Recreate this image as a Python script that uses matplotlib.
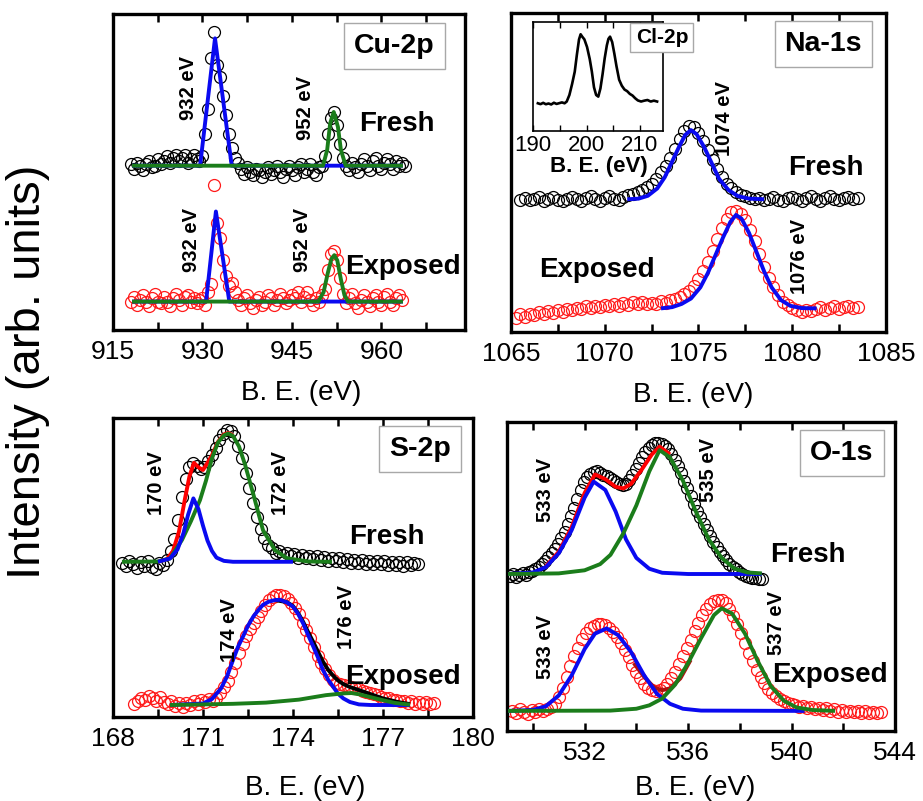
import matplotlib
import numpy as np

matplotlib.use("Agg")
import matplotlib.pyplot as plt  # noqa: E402

plt.rcParams["font.family"] = ["Liberation Sans", "DejaVu Sans"]

BLUE = "#0a0af0"
GREEN = "#1b7d1b"
RED = "#ff1a1a"

# ---- Cu-2p (x start, step, intensities in arb. units, offset stack) ----
cu_fresh_x0, cu_fresh_step = 918.0, 0.5
cu_fresh_y = [52.5, 51, 53, 52, 50.5, 52.5, 53.5, 51.5, 52, 54, 52.5, 53.5, 55, 53, 54.5,
              55.5, 53.5, 54.5, 55.5, 53, 54, 55.5, 54, 53.5, 55, 62, 70, 86, 94.4, 84,
              80, 74, 68, 62, 57.5, 54.5, 53, 51, 49.5, 51.5, 50, 49, 51, 50.5, 48.5,
              50, 51.5, 49.5, 50.5, 52, 50, 48.5, 51, 52, 50.5, 49, 51.5, 52.5, 50, 51,
              52.5, 50, 49, 51.5, 52, 55, 62, 67, 69, 65, 59, 54.5, 52, 50.5, 53,
              51.5, 50, 52.5, 54, 52, 50.5, 53.5, 54.5, 52, 51, 53, 54, 52.5, 51, 53.5,
              52, 53, 52]
cu_exp_x0, cu_exp_step = 918.0, 0.5
cu_exp_y = [9, 10.5, 8, 9.5, 11, 9, 7.5, 10, 11.5, 9, 8.5, 10.5, 9, 7.5, 10, 11.5, 9.5,
            8, 10.5, 11, 9, 10, 8.5, 9.5, 10, 8, 12, 14.5, 46, 34, 29, 22, 17, 14, 15,
            12, 9.5, 8, 10, 11, 8.5, 7, 9.5, 10.5, 8, 9, 11, 10, 8, 9.5, 11.5, 10, 8.5,
            9.5, 11, 10, 12, 9, 10.5, 12, 9.5, 8, 10, 9, 11, 13, 19, 24, 25, 22, 16.5,
            11.5, 8.5, 10, 11.5, 8.5, 7, 9.5, 11, 9, 7.5, 10, 11, 9, 8, 10.5, 11.5, 9,
            8, 10, 11, 9.5]
cu_fit_fresh_blue_x = [918.2, 929.6, 932.1, 934.9, 963.6]
cu_fit_fresh_blue_y = [52, 52, 92.3, 52, 52]
cu_fit_fresh_green_x = [918.2, 950.2, 950.9, 951.4, 952.0, 952.7, 953.2, 954.0, 963.6]
cu_fit_fresh_green_y = [52, 52, 57, 65.4, 69, 64.3, 57, 52, 52]
cu_fit_exp_blue_x = [918.2, 930.6, 932.25, 934.5, 963.6]
cu_fit_exp_blue_y = [9, 9, 37.5, 9, 9]
cu_fit_exp_green_x = [918.2, 949.4, 950.3, 951.0, 951.6, 952.1, 952.6, 953.2, 953.8, 954.4, 963.6]
cu_fit_exp_green_y = [9, 9, 12, 18, 22.5, 23.7, 22, 16, 11, 9, 9]

# ---- Na-1s ----
na_fresh_x0, na_fresh_step = 1065.5, 0.25
na_fresh_y = [41.5, 42, 41.3, 41.8, 42.3, 41.2, 41.7, 42.2, 41.5, 41, 41.8, 42.4, 41.6,
              41.1, 41.9, 42.5, 41.7, 41.2, 42, 42.6, 41.8, 41.4, 42.2, 42.8, 43.3, 43.8,
              44.5, 45.5, 46.5, 48, 50, 52, 54.5, 57.5, 60.5, 63, 64.5, 64.2, 62.5, 60,
              57, 54, 51, 48.5, 46.5, 45, 44, 43, 42.5, 42, 41.6, 42.1, 41.3, 41.8, 42.3,
              41.5, 41, 41.9, 42.4, 41.6, 41.1, 42, 42.5, 41.7, 41.2, 42.1, 42.6, 41.8,
              41.3, 42, 42.4, 41.6, 41.9]
na_exp_x0, na_exp_step = 1065.25, 0.25
na_exp_y = [4.5, 5.5, 4.8, 5.8, 5.2, 6.2, 5.5, 6.5, 6, 7, 6.4, 7.3, 6.8, 7.6, 7.1, 8, 7.4,
            8.2, 7.7, 8.5, 8, 8.8, 8.2, 9, 8.5, 9.3, 8.7, 9.5, 8.9, 9.2, 8.8, 9.6, 9.2, 10,
            10.5, 11, 12, 13, 14.5, 16.5, 19, 22, 25.5, 29, 32.5, 35.5, 37.5, 38, 37, 35,
            32, 28.5, 24.5, 20.5, 17, 14, 11.5, 9.5, 8.5, 7.5, 6.8, 6.2, 7, 6.5, 7.2, 7.8,
            7, 7.6, 8, 7.3, 7.8, 8.2, 7.5, 7.9]
na_fit_fresh_x = [1071.2, 1071.8, 1072.3, 1072.8, 1073.2, 1073.6, 1074.0, 1074.3, 1074.6,
                  1074.9, 1075.3, 1075.7, 1076.1, 1076.6, 1077.1, 1077.7, 1078.5]
na_fit_fresh_y = [41.6, 41.8, 42.7, 45, 48.5, 53.5, 58.5, 61.8, 63.3, 62, 58, 53, 48,
                  44.5, 42.6, 41.8, 41.6]
na_fit_exp_x = [1073.0, 1073.6, 1074.1, 1074.6, 1075.1, 1075.5, 1075.9, 1076.3, 1076.7,
                1077.0, 1077.3, 1077.7, 1078.1, 1078.5, 1078.9, 1079.4, 1079.9, 1080.5, 1081.3]
na_fit_exp_y = [7.4, 7.8, 8.8, 10.5, 14, 18.5, 24, 29.5, 34.5, 36.7, 35.5, 31, 25, 19, 14,
                10, 8.2, 7.5, 7.4]

# ---- Cl-2p inset ----
cl_x = [190.9, 191.4, 191.9, 192.4, 192.9, 193.4, 193.9, 194.4, 194.9, 195.4, 195.9,
        196.3, 196.8, 197.3, 197.8, 198.2, 198.6, 198.9, 199.2, 199.6, 200.1, 200.6,
        201.0, 201.4, 201.8, 202.2, 202.6, 203.0, 203.4, 203.8, 204.1, 204.4, 204.8,
        205.2, 205.6, 206.1, 206.6, 207.1, 207.6, 208.1, 208.6, 209.1, 209.6, 210.2,
        210.8, 211.4, 212.0, 212.6, 213.2]
cl_y = [25.4, 24.6, 25.8, 24.5, 25.2, 24.3, 25.9, 24.8, 25.5, 26.2, 25.4, 27, 33, 43,
        54.4, 70, 84, 88.7, 86.5, 84, 77, 66, 54.4, 40, 33, 31.5, 39, 52, 66.7, 78.5,
        84.5, 86.5, 81.5, 71, 59.5, 47, 41.5, 38, 36.5, 34, 32.5, 30, 28, 27, 27.8,
        28.4, 27, 27.8, 27]

# ---- S-2p ----
s_fresh_x0, s_fresh_step = 168.3, 0.125
s_fresh_y = [51.5, 50.5, 52, 51, 49.8, 51.8, 50.6, 52.3, 50.2, 49.5, 51.5, 50.8, 52.5,
             55.5, 59.5, 66, 73.5, 79.5, 83.5, 85, 84, 82.8, 83.5, 85.5, 87.5, 90, 92.5,
             94.5, 96, 95.5, 94, 90.5, 86.5, 81.5, 76.5, 71.5, 67, 63, 60, 57.5, 56.5, 55,
             55.5, 54.2, 55, 53.8, 54.5, 53.2, 54.3, 53, 54, 52.8, 53.8, 52.6, 53.5, 52.2,
             53.2, 52, 53, 51.8, 52.8, 51.6, 52.5, 51.4, 52.4, 51.2, 52.2, 51, 52.2, 51,
             52, 50.8, 51.9, 50.7, 51.8, 50.6, 51.7, 50.8, 51.6, 51.2]
s_exp_x0, s_exp_step = 168.7, 0.125
s_exp_y = [4.2, 5.5, 6.5, 5.8, 7, 6.2, 5.4, 6.6, 5, 4.2, 5.5, 3.8, 4.6, 3.5, 4.8, 4, 5.2,
           4.4, 5.6, 4.9, 6, 5.3, 6.2, 8, 10, 12, 15, 18, 21.5, 24.5, 27, 29.5, 31.5, 33.5,
           35.5, 37.5, 39, 40.2, 40.8, 40.8, 40.3, 39.5, 38, 36.5, 34.5, 31.5, 29, 26.5,
           23.5, 20.5, 18, 16, 14, 12.5, 11.5, 11, 10.8, 10.5, 10, 9.6, 9.2, 8.8, 8.5, 8,
           7.6, 7.2, 6.8, 6.4, 6.2, 5.8, 5.6, 5.2, 5.4, 4.8, 5.2, 4.5, 5, 4.4, 4.9, 4.3, 4.8]
s_fit_fresh_green_x = [168.3, 169.5, 169.9, 170.3, 170.6, 170.9, 171.1, 171.3, 171.5, 171.7,
                       171.84, 172.0, 172.2, 172.4, 172.7, 173.0, 173.4, 173.8, 174.5, 175.3]
s_fit_fresh_green_y = [51.9, 52, 53, 59.2, 65.5, 72.5, 79, 86.5, 91.8, 94.2, 94.8, 94, 90.5,
                       84.5, 73.7, 62.5, 55.8, 53.1, 52, 51.9]
s_fit_fresh_blue_x = [169.5, 169.9, 170.15, 170.35, 170.5, 170.68, 170.85, 171.0, 171.15,
                      171.3, 171.45, 171.7, 172.0, 174.0]
s_fit_fresh_blue_y = [51.9, 53, 56, 61.5, 67.5, 73.1, 69.5, 64, 59, 55.5, 53.3, 52.2, 51.9, 51.9]
s_fit_fresh_sum_x = [169.5, 169.8, 170.0, 170.2, 170.4, 170.55, 170.7, 170.85, 171.0, 171.12,
                     171.3, 171.5, 171.7, 171.84, 172.0]
s_fit_fresh_sum_y = [51.9, 52.8, 55.5, 62, 73, 80.5, 85, 83.5, 82.6, 84.5, 87.5, 92, 94.5, 95, 94.2]
s_fit_exp_blue_x = [169.9, 171.0, 171.3, 171.6, 171.8, 172.0, 172.17, 172.34, 172.5, 172.68,
                    172.85, 173.0, 173.2, 173.4, 173.57, 173.8, 174.0, 174.17, 174.34, 174.5,
                    174.68, 174.85, 175.0, 175.17, 175.34, 175.5, 175.68, 175.9, 176.2, 176.6, 177.9]
s_fit_exp_blue_y = [4, 4.5, 6, 9.5, 13.5, 19, 23.5, 27, 30.5, 33.6, 35.8, 37.5, 38.6, 39.1,
                    39.2, 38.3, 36.9, 34.5, 31.3, 27.5, 23.5, 19.5, 15.7, 12.5, 10.1, 7.8,
                    6.2, 5, 4.2, 4, 4]
s_fit_exp_sum_x = [173.4, 173.8, 174.0, 174.17, 174.34, 174.5, 174.68, 174.85, 175.0, 175.17,
                   175.34, 175.5, 175.68, 175.9, 176.2, 176.6, 177.0, 177.5, 177.9]
s_fit_exp_sum_y = [39.1, 38.4, 37.1, 34.8, 31.8, 28.5, 25, 21.5, 18.5, 15.8, 13.8, 12.2, 11,
                   10, 9, 7.6, 6.2, 5, 4.3]
s_fit_exp_green_x = [169.9, 171.0, 172.0, 173.1, 174.2, 175.1, 175.7, 175.95, 176.2, 176.6,
                     177.0, 177.4, 177.9]
s_fit_exp_green_y = [4, 4.2, 4.4, 4.8, 5.8, 7.3, 7.9, 8, 7.6, 6.6, 5.6, 4.7, 4.1]

# ---- O-1s ----
o_fresh_x0, o_fresh_step = 529.1, 0.125
o_fresh_y = [50.2, 50.8, 49.9, 50.6, 51, 50.4, 51.4, 51.8, 52.4, 53, 53.9, 55, 56.3, 57.7,
             59, 60.6, 62.4, 64.5, 67, 69.6, 72.3, 75, 78, 80.5, 82.2, 83.3, 83.9, 84, 83.6,
             83, 82.6, 82, 81.2, 80.5, 80, 79.6, 80, 81.2, 82.8, 84.8, 86.8, 88.6, 90.2,
             91.5, 92.5, 93.1, 93.3, 93, 92.2, 91.2, 89.7, 87.8, 85.7, 83.5, 81, 78.5, 76,
             73.6, 71.3, 69.1, 67, 65, 63.1, 61.3, 59.6, 58, 56.6, 55.3, 54.2, 53.2, 52.3,
             51.5, 50.8, 50.3, 49.9, 49.6, 49.4, 49.2, 49.1]
o_exp_x0, o_exp_step = 529.2, 0.15
o_exp_y = [6.5, 5.8, 7, 6.2, 5.6, 6.8, 6, 7.2, 6.4, 7, 7.8, 8.7, 11, 14, 17.6, 21, 24.3, 27,
           29.8, 31.8, 33.2, 34, 34.5, 34.6, 34.2, 33.3, 32, 30.3, 28.4, 26.2, 23.8, 21.3,
           19, 17, 15.3, 14, 13.3, 13, 13.2, 14, 15.3, 17, 19.2, 21.6, 24.2, 26.9, 29.6,
           32.3, 35, 37.4, 39.4, 41, 42, 42.5, 42.3, 41.3, 39.6, 37.3, 34.6, 31.6, 28.5,
           25.4, 22.5, 19.8, 17.4, 15.4, 13.7, 12.3, 11.2, 10.3, 9.6, 9.1, 8.6, 8.3, 7.8,
           8.2, 7.4, 7.8, 7, 7.5, 6.9, 7.3, 6.5, 7.1, 6.3, 6.8, 6.1, 6.6, 6, 6.5, 5.9, 6.4,
           5.8, 6.3, 5.9, 6.2]
o_fit_fresh_blue_x = [529.04, 530.0, 530.5, 531.0, 531.5, 532.0, 532.35, 532.8, 533.2, 533.6,
                      534.0, 534.5, 535.0, 536.0, 538.85]
o_fit_fresh_blue_y = [50.8, 51.3, 53, 57.5, 65, 75.5, 80.7, 78, 71, 62, 56, 52.5, 51.2, 50.8, 50.8]
o_fit_fresh_green_x = [529.04, 531.0, 532.0, 532.6, 533.0, 533.5, 534.0, 534.5, 534.9, 535.3,
                       535.8, 536.3, 536.8, 537.3, 537.8, 538.3, 538.85]
o_fit_fresh_green_y = [50.8, 51, 52, 54, 57, 64, 73, 84, 90.9, 88.5, 81, 71, 62, 56, 52.5, 51.3, 51]
o_fit_fresh_sum_x = [530.5, 531.0, 531.5, 532.0, 532.4, 532.8, 533.2, 533.5, 533.8, 534.2,
                     534.6, 534.9, 535.3]
o_fit_fresh_sum_y = [53.3, 58, 66, 77, 83, 81.5, 79, 78.5, 80, 84.5, 89.5, 92, 89.5]
o_fit_exp_blue_x = [529.04, 530.0, 530.5, 531.0, 531.5, 532.0, 532.4, 532.85, 533.3, 533.8,
                    534.3, 534.8, 535.3, 535.8, 536.5, 540.5]
o_fit_exp_blue_y = [6.5, 6.8, 8, 11.5, 18, 26.5, 31.5, 33.2, 31, 25.5, 18, 12, 8.8, 7.2, 6.6, 6.5]
o_fit_exp_green_x = [529.04, 533.0, 534.0, 534.5, 535.0, 535.5, 536.0, 536.5, 537.0, 537.3,
                     537.7, 538.2, 538.7, 539.2, 539.7, 540.2, 540.8, 541.68]
o_fit_exp_green_y = [6.5, 6.6, 7.2, 8.3, 10.5, 15, 22, 30, 37.5, 39.7, 38, 31.5, 22.5, 14.5,
                     9.8, 7.6, 6.8, 6.5]
o_fit_exp_sum_x = [533.9, 534.3, 534.7, 535.0, 535.3, 535.7, 536.1]
o_fit_exp_sum_y = [22, 17.5, 14, 13.2, 13.8, 17, 23]


def spectrum(x0, step, ys):
    ys = np.asarray(ys, dtype=float)
    return x0 + step * np.arange(len(ys)), ys


def circles(ax, x0, step, ys, color):
    x, y = spectrum(x0, step, ys)
    ax.plot(x, y, "o", mfc="none", mec=color, ms=8.6, mew=0.9, zorder=2)


def fit(ax, x, y, color, z=3):
    ax.plot(x, y, "-", color=color, lw=2.8, zorder=z, solid_capstyle="butt")


def style(ax, xlim, major, minor, lab_xy):
    ax.set_xlim(*xlim)
    ax.set_ylim(0, 100)
    ax.set_xticks(major)
    ax.set_xticks(minor, minor=True)
    ax.set_yticks([])
    ax.tick_params(axis="x", which="both", direction="in", top=True, length=6,
                   width=1.8, labelsize=19, pad=7)
    for s in ax.spines.values():
        s.set_linewidth(2.4)
    ax.set_xlabel("B. E. (eV)", fontsize=20)
    ax.xaxis.set_label_coords(*lab_xy)


def tag(ax, fx, fy, s):
    ax.text(fx, fy, s, transform=ax.transAxes, ha="center", va="center", fontsize=20.5,
            fontweight="bold", zorder=6,
            bbox=dict(boxstyle="square,pad=0.35", fc="white", ec="#a8a8a8", lw=1))


def note(ax, x, y, s, rot=0, size=20):
    ax.text(x, y, s, rotation=rot, ha="center", va="center", fontsize=size,
            fontweight="bold", zorder=6)


fig = plt.figure(figsize=(9.23, 8.01), dpi=100)

# Cu-2p
ax1 = fig.add_axes([0.1224, 0.5880, 0.3814, 0.3945])
circles(ax1, cu_fresh_x0, cu_fresh_step, cu_fresh_y, "black")
circles(ax1, cu_exp_x0, cu_exp_step, cu_exp_y, RED)
fit(ax1, cu_fit_fresh_blue_x, cu_fit_fresh_blue_y, BLUE)
fit(ax1, cu_fit_fresh_green_x, cu_fit_fresh_green_y, GREEN, 4)
fit(ax1, cu_fit_exp_blue_x, cu_fit_exp_blue_y, BLUE)
fit(ax1, cu_fit_exp_green_x, cu_fit_exp_green_y, GREEN, 4)
style(ax1, (915, 974), [915, 930, 945, 960], [922.5, 937.5, 952.5, 967.5], (0.535, -0.158))
tag(ax1, 0.80, 0.90, "Cu-2p")
note(ax1, 927.6, 76.6, "932 eV", 90, 14.5)
note(ax1, 947.2, 70.2, "952 eV", 90, 14.5)
note(ax1, 962.5, 65.2, "Fresh")
note(ax1, 928.2, 28.5, "932 eV", 90, 14.5)
note(ax1, 946.8, 28.5, "952 eV", 90, 14.5)
note(ax1, 963.6, 20.0, "Exposed")

# Na-1s
ax2 = fig.add_axes([0.5536, 0.5855, 0.4063, 0.3983])
circles(ax2, na_fresh_x0, na_fresh_step, na_fresh_y, "black")
circles(ax2, na_exp_x0, na_exp_step, na_exp_y, RED)
fit(ax2, na_fit_fresh_x, na_fit_fresh_y, BLUE)
fit(ax2, na_fit_exp_x, na_fit_exp_y, BLUE)
style(ax2, (1065, 1085), [1065, 1070, 1075, 1080, 1085],
      [1067.5, 1072.5, 1077.5, 1082.5], (0.485, -0.157))
tag(ax2, 0.833, 0.904, "Na-1s")
note(ax2, 1076.4, 67.0, "1074 eV", 90, 14.5)
note(ax2, 1081.8, 51.3, "Fresh")
note(ax2, 1080.4, 23.6, "1076 eV", 90, 14.5)
note(ax2, 1069.6, 19.4, "Exposed")

# Cl-2p inset
axi = fig.add_axes([0.5775, 0.8365, 0.1408, 0.1361])
axi.plot(cl_x, cl_y, "-", color="black", lw=1.9)
axi.set_xlim(190, 214.3)
axi.set_ylim(0, 100)
axi.set_xticks([190, 200, 210])
axi.set_xticks([195, 205], minor=True)
axi.set_yticks([])
axi.tick_params(axis="x", which="both", direction="in", top=True, length=4, width=1,
                labelsize=16, pad=3)
for s in axi.spines.values():
    s.set_linewidth(1.2)
axi.set_xlabel("B. E. (eV)", fontsize=16, fontweight="bold")
axi.xaxis.set_label_coords(0.51, -0.23)
axi.text(0.992, 0.858, "Cl-2p", transform=axi.transAxes, ha="center", va="center",
         fontsize=15, fontweight="bold", zorder=6, clip_on=False,
         bbox=dict(boxstyle="square,pad=0.25", fc="white", ec="#a8a8a8", lw=1))

# S-2p
ax3 = fig.add_axes([0.1224, 0.1049, 0.3900, 0.3733])
circles(ax3, s_fresh_x0, s_fresh_step, s_fresh_y, "black")
circles(ax3, s_exp_x0, s_exp_step, s_exp_y, RED)
fit(ax3, s_fit_fresh_sum_x, s_fit_fresh_sum_y, "red", 3)
fit(ax3, s_fit_fresh_green_x, s_fit_fresh_green_y, GREEN, 4)
fit(ax3, s_fit_fresh_blue_x, s_fit_fresh_blue_y, BLUE, 5)
fit(ax3, s_fit_exp_sum_x, s_fit_exp_sum_y, "black", 3)
fit(ax3, s_fit_exp_blue_x, s_fit_exp_blue_y, BLUE, 4)
fit(ax3, s_fit_exp_green_x, s_fit_exp_green_y, GREEN, 5)
style(ax3, (168, 180), [168, 171, 174, 177, 180], [169.5, 172.5, 175.5, 178.5],
      (0.535, -0.194))
tag(ax3, 0.853, 0.896, "S-2p")
note(ax3, 169.46, 78.2, "170 eV", 90, 14.5)
note(ax3, 173.57, 78.2, "172 eV", 90, 14.5)
note(ax3, 177.12, 60.3, "Fresh")
note(ax3, 171.9, 29.1, "174 eV", 90, 14.5)
note(ax3, 175.79, 33.5, "176 eV", 90, 14.5)
note(ax3, 177.68, 13.5, "Exposed")

# O-1s
ax4 = fig.add_axes([0.5493, 0.0874, 0.4204, 0.3858])
circles(ax4, o_fresh_x0, o_fresh_step, o_fresh_y, "black")
circles(ax4, o_exp_x0, o_exp_step, o_exp_y, RED)
fit(ax4, o_fit_fresh_sum_x, o_fit_fresh_sum_y, "red", 3)
fit(ax4, o_fit_fresh_blue_x, o_fit_fresh_blue_y, BLUE, 4)
fit(ax4, o_fit_fresh_green_x, o_fit_fresh_green_y, GREEN, 5)
fit(ax4, o_fit_exp_sum_x, o_fit_exp_sum_y, "#b01010", 3)
fit(ax4, o_fit_exp_blue_x, o_fit_exp_blue_y, BLUE, 4)
fit(ax4, o_fit_exp_green_x, o_fit_exp_green_y, GREEN, 5)
style(ax4, (529, 544), [532, 536, 540, 544], [530, 534, 538, 542], (0.485, -0.142))
tag(ax4, 0.863, 0.899, "O-1s")
note(ax4, 530.47, 78.0, "533 eV", 90, 14.5)
note(ax4, 536.78, 84.5, "535 eV", 90, 14.5)
note(ax4, 540.65, 56.9, "Fresh")
note(ax4, 530.47, 27.3, "533 eV", 90, 14.5)
note(ax4, 539.4, 34.8, "537 eV", 90, 14.5)
note(ax4, 541.5, 18.1, "Exposed")

fig.text(28 / 923, 1 - 372 / 801, "Intensity (arb. units)", rotation=90, ha="center",
         va="center", fontsize=34)

fig.savefig("out.png", dpi=100)
plt.close(fig)
